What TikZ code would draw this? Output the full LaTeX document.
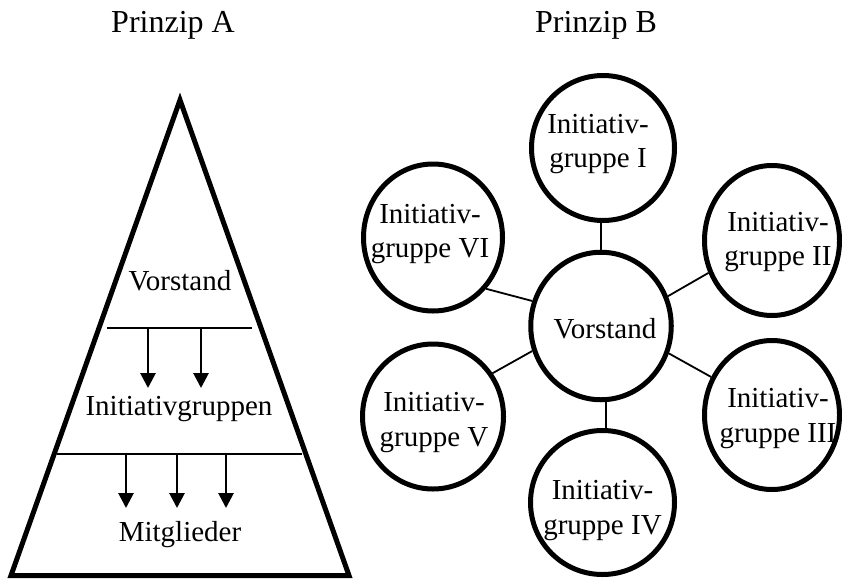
\documentclass[tikz,border=0pt]{standalone}
\usepackage{fontspec}
\setmainfont{Liberation Serif}
\usetikzlibrary{arrows.meta,shapes.geometric}
\begin{document}
\begin{tikzpicture}[x=1pt,y=-1pt,
  ttl/.style={font=\fontsize{32}{37}\selectfont, anchor=base, inner sep=0pt},
  txt/.style={font=\fontsize{29}{34.5}\selectfont, inner sep=0pt},
  grptxt/.style={txt, align=center},
  ring/.style={draw, ellipse, line width=5pt, inner sep=0pt},
  spoke/.style={line width=1.8pt},
  divider/.style={line width=1.7pt},
  down/.style={line width=2.8pt, -{Triangle[width=15pt,length=15pt]}},
  pyramid/.style={line width=5pt, line join=miter}
]
\useasboundingbox (0,0) rectangle (842,581);

% headings
\node[ttl] (tA) at (173,32) {Prinzip A};
\node[ttl] (tB) at (596,32) {Prinzip B};

% principle A: pyramid with three levels
\coordinate (apex) at (180,100);
\coordinate (bl) at (11,575.5);
\coordinate (br) at (349,575.5);
\draw[pyramid] (apex) -- (br) -- (bl) -- cycle;

\node[txt, anchor=base] (pv) at (180,290) {Vorstand};
\node[txt, anchor=base] (pi) at (179,415) {Initiativgruppen};
\node[txt, anchor=base] (pm) at (180,541.5) {Mitglieder};

\coordinate (d1l) at (107,328);
\coordinate (d1r) at (252,328);
\coordinate (d2l) at (57,454);
\coordinate (d2r) at (302,454);
\draw[divider] (d1l) -- (d1r);
\draw[divider] (d2l) -- (d2r);

\foreach \x [count=\i] in {148,201} {
  \coordinate (ua\i) at (\x,328);
  \coordinate (wa\i) at (\x,388);
  \draw[down] (ua\i) -- (wa\i);
}
\foreach \x [count=\i] in {126,177,226} {
  \coordinate (ub\i) at (\x,454);
  \coordinate (wb\i) at (\x,508);
  \draw[down] (ub\i) -- (wb\i);
}

% principle B: board in the centre, six initiative groups around it
\node[ring, minimum width=140.5pt, minimum height=147.5pt] (v) at (601,326) {};
\node[ring, minimum width=143pt, minimum height=145pt] (g1) at (603,148) {};
\node[ring, minimum width=135pt, minimum height=150pt] (g2) at (772,240.5) {};
\node[ring, minimum width=135pt, minimum height=149pt] (g3) at (772,415) {};
\node[ring, minimum width=144pt, minimum height=144pt] (g4) at (602.5,502.5) {};
\node[ring, minimum width=141pt, minimum height=145pt] (g5) at (433,416.5) {};
\node[ring, minimum width=139pt, minimum height=147pt] (g6) at (433,237.5) {};

\node[txt, anchor=base] (vt) at (605,338) {Vorstand};
\node[grptxt] (t1) at (598,144) {Initiativ-\\gruppe I};
\node[grptxt] (t2) at (778,242) {Initiativ-\\gruppe II};
\node[grptxt] (t3) at (778,418.5) {Initiativ-\\gruppe III};
\node[grptxt] (t4) at (602.5,510.5) {Initiativ-\\gruppe IV};
\node[grptxt] (t5) at (434,422.5) {Initiativ-\\gruppe V};
\node[grptxt] (t6) at (430,234) {Initiativ-\\gruppe VI};

\draw[spoke] (v.north) -- (v.north |- g1.south);
\draw[spoke] (v.24) -- (g2.207);
\draw[spoke] (v.-22.4) -- (g3.148.7);
\draw[spoke] (v.-86) -- (v.-86 |- g4.north);
\draw[spoke] (v.200.3) -- (g5.36.3);
\draw[spoke] (v.160.7) -- (g6.-44);
\end{tikzpicture}
\end{document}
